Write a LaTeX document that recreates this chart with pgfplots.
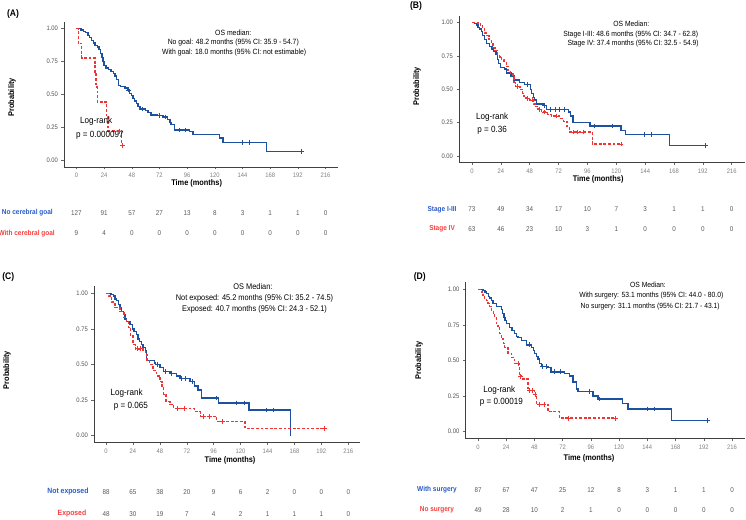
\documentclass[border=0pt]{standalone}
\usepackage{pgfplots}
\pgfplotsset{compat=1.18}
\usepackage{fontspec}
\setmainfont{Liberation Sans}[FakeStretch=0.9]
\definecolor{kmblue}{RGB}{28,80,160}
\definecolor{kmred}{RGB}{240,52,52}
\definecolor{lblblue}{RGB}{40,90,200}
\definecolor{lblred}{RGB}{250,60,60}
\definecolor{ytickgray}{RGB}{80,80,80}
\definecolor{xtickgray}{RGB}{130,130,130}
\definecolor{numgray}{RGB}{90,90,90}
\pgfplotsset{
  km/.style={
    scale only axis,
    axis lines*=left,
    axis line style={-, line width=0.8pt, draw=black!75},
    xmin=-10.8, xmax=226.8, ymin=-0.05, ymax=1.05,
    xtick={0,24,...,216},
    ytick={0,0.25,0.5,0.75,1},
    tick align=outside,
    major tick length=2.5pt,
    tick style={line width=0.5pt, draw=black!60},
    /pgf/number format/assume math mode=true,
    yticklabel style={/pgf/number format/.cd, fixed, fixed zerofill, precision=2, /tikz/.cd, text=ytickgray},
    xticklabel style={text=xtickgray},
    tick label style={font=\fontsize{6.5}{7}\selectfont},
    clip=false,
    xlabel={Time (months)},
    ylabel={Probability},
    label style={font=\fontsize{8.2}{9}\selectfont\bfseries},
  },
  bl/.style={kmblue, line width=1.35pt, const plot, mark=none},
  rd/.style={kmred, line width=1.35pt, const plot, mark=none, dash pattern=on 2.8pt off 1.8pt},
  bc/.style={kmblue, only marks, mark=+, mark size=2.4pt, line width=0.7pt},
  rc/.style={kmred, only marks, mark=+, mark size=2.4pt, line width=0.7pt},
  risk/.style={only marks, mark=none, nodes near coords, point meta=explicit symbolic,
     nodes near coords align=center,
     nodes near coords style={font=\fontsize{7}{8}\selectfont, text=numgray}},
}
\tikzset{
  rlab/.style={font=\fontsize{7.2}{8}\selectfont\bfseries},
  med/.style={font=\fontsize{7.6}{8}\selectfont, anchor=center},
  lr/.style={font=\fontsize{9}{10}\selectfont, anchor=center},
}
\begin{document}
\begin{tikzpicture}
\path[use as bounding box] (0,0) rectangle (746pt,519pt);
% ---------------- (A)
\begin{axis}[km, width=274pt, height=145pt, at={(64pt,352pt)}, anchor=south west,
  xlabel style={at={(axis description cs:0.484,-0.11)}, anchor=center},
  ylabel style={at={(axis description cs:-0.19,0.48)}, anchor=center}]
\addplot[bl] coordinates {(0,1)(3.8,0.99)(6,0.98)(8,0.97)(10,0.95)(11.5,0.93)(13,0.91)(14.5,0.89)(16,0.87)(18,0.86)(19.5,0.84)(21,0.81)(22,0.78)(23,0.75)(24,0.72)(25.5,0.70)(28,0.69)(30,0.675)(32,0.66)(33.5,0.64)(35,0.615)(36.5,0.57)(38,0.56)(42,0.55)(44,0.535)(46,0.51)(47.5,0.49)(49,0.47)(50.5,0.45)(52,0.43)(53.5,0.41)(55,0.39)(60,0.38)(62,0.365)(64.5,0.345)(70,0.34)(75,0.33)(79,0.31)(81,0.29)(82,0.27)(85,0.23)(98,0.22)(101,0.195)(124,0.17)(127,0.137)(165,0.068)(195,0.068)};
\addplot[bc] coordinates {(45,0.535)(57,0.39)(72,0.34)(77,0.33)(89,0.23)(94,0.23)(144,0.137)(150,0.137)(195,0.068)};
\addplot[rd] coordinates {(0,1)(1.5,0.889)(4.6,0.778)(16,0.667)(17,0.556)(18,0.444)(26,0.333)(27.5,0.222)(39,0.111)(40,0.111)};
\addplot[rc] coordinates {(37.5,0.222)(40,0.111)};
\node[med] at (axis cs:136,0.97) {OS median:};
\node[med] at (axis cs:136,0.894) {No goal: 48.2 months (95\% CI: 35.9 - 54.7)};
\node[med] at (axis cs:136.8,0.818) {With goal: 18.0 months (95\% CI: not estimable)};
\node[lr] at (axis cs:17.1,0.296) {Log-rank};
\node[lr] at (axis cs:20.3,0.1875) {p = 0.000097};
\addplot[risk] coordinates {(0,-0.40)[127] (24,-0.40)[91] (48,-0.40)[57] (72,-0.40)[27] (96,-0.40)[13] (120,-0.40)[8] (144,-0.40)[3] (168,-0.40)[1] (192,-0.40)[1] (216,-0.40)[0]};
\addplot[risk] coordinates {(0,-0.552)[9] (24,-0.552)[4] (48,-0.552)[0] (72,-0.552)[0] (96,-0.552)[0] (120,-0.552)[0] (144,-0.552)[0] (168,-0.552)[0] (192,-0.552)[0] (216,-0.552)[0]};
\node[rlab, text=lblblue, anchor=east] at (axis cs:-17.5,-0.40) {No cerebral goal};
\node[rlab, text=lblred, anchor=east] at (axis cs:-15.8,-0.552) {With cerebral goal};
\end{axis}
% ---------------- (B)
\begin{axis}[km, width=285.7pt, height=147pt, at={(459pt,356.3pt)}, anchor=south west,
  xlabel style={at={(axis description cs:0.487,-0.111)}, anchor=center},
  ylabel style={at={(axis description cs:-0.147,0.52)}, anchor=center}]
\addplot[bl] coordinates {(0,1)(2,0.99)(3.5,0.98)(5,0.96)(6.5,0.95)(8,0.93)(9,0.9)(10.5,0.87)(12,0.84)(14.5,0.82)(16.5,0.8)(18,0.78)(20,0.76)(21,0.72)(22,0.69)(23.5,0.66)(27,0.65)(28.5,0.62)(32.5,0.60)(35,0.57)(39.5,0.55)(43.5,0.535)(48.5,0.5)(49.5,0.47)(51,0.44)(52,0.42)(53.5,0.39)(59,0.38)(62,0.35)(80,0.33)(82,0.30)(84,0.25)(98,0.225)(124,0.19)(127.5,0.16)(164,0.08)(194,0.08)};
\addplot[bc] coordinates {(46,0.535)(60.5,0.38)(65,0.35)(69,0.35)(73,0.35)(77,0.35)(102,0.225)(117,0.225)(143,0.16)(149,0.16)(194,0.08)};
\addplot[rd] coordinates {(0,1)(5,0.99)(7,0.975)(9,0.95)(10.5,0.92)(12,0.9)(14,0.87)(16,0.84)(17.5,0.81)(19,0.79)(21,0.76)(23,0.74)(24.5,0.72)(26.5,0.70)(28.5,0.67)(30,0.64)(32,0.62)(34,0.59)(35,0.55)(36,0.52)(40,0.5)(42,0.47)(43,0.45)(45,0.43)(48,0.42)(51,0.39)(53,0.37)(55,0.35)(58,0.33)(63,0.31)(66,0.30)(73,0.28)(76,0.26)(79,0.22)(81,0.18)(100,0.09)(124,0.09)};
\addplot[rc] coordinates {(38,0.52)(46,0.43)(50,0.42)(56,0.35)(60,0.33)(70,0.30)(84,0.18)(88,0.18)(93,0.18)(124,0.09)};
\node[med, font=\fontsize{7.5}{8}\selectfont] at (axis cs:132.5,0.987) {OS Median:};
\node[med, font=\fontsize{7.5}{8}\selectfont] at (axis cs:132,0.910) {Stage I-III: 48.6 months (95\% CI: 34.7 - 62.8)};
\node[med, font=\fontsize{7.5}{8}\selectfont] at (axis cs:134,0.838) {Stage IV: 37.4 months (95\% CI: 32.5 - 54.9)};
\node[lr] at (axis cs:16.8,0.294) {Log-rank};
\node[lr] at (axis cs:16.8,0.194) {p = 0.36};
\addplot[risk] coordinates {(0,-0.399)[73] (24,-0.399)[49] (48,-0.399)[34] (72,-0.399)[17] (96,-0.399)[10] (120,-0.399)[7] (144,-0.399)[3] (168,-0.399)[1] (192,-0.399)[1] (216,-0.399)[0]};
\addplot[risk] coordinates {(0,-0.548)[63] (24,-0.548)[46] (48,-0.548)[23] (72,-0.548)[10] (96,-0.548)[3] (120,-0.548)[1] (144,-0.548)[0] (168,-0.548)[0] (192,-0.548)[0] (216,-0.548)[0]};
\node[rlab, text=lblblue, anchor=center] at (axis cs:-24.9,-0.399) {Stage I-III};
\node[rlab, text=lblred, anchor=center] at (axis cs:-24.9,-0.548) {Stage IV};
\end{axis}
% ---------------- (C)
\begin{axis}[km, width=266.5pt, height=156.6pt, at={(93.9pt,76.2pt)}, anchor=south west,
  xlabel style={at={(axis description cs:0.511,-0.115)}, anchor=center},
  ylabel style={at={(axis description cs:-0.326,0.465)}, anchor=center}]
\addplot[bl] coordinates {(0,1)(4.5,0.99)(6.5,0.98)(8,0.96)(9.5,0.95)(11,0.92)(12.5,0.9)(14,0.87)(15.5,0.85)(17,0.82)(18.5,0.8)(21.5,0.78)(23.5,0.75)(25,0.73)(27,0.71)(28.5,0.68)(30,0.66)(31.5,0.64)(33,0.62)(35,0.6)(36,0.53)(43,0.51)(44,0.5)(48,0.48)(51,0.45)(57,0.435)(63,0.42)(66,0.40)(75,0.38)(79,0.35)(82,0.32)(85,0.265)(100,0.23)(127.5,0.18)(164.6,0)};
\addplot[bc] coordinates {(46,0.5)(53,0.45)(58,0.435)(67,0.40)(71,0.40)(77,0.38)(98,0.265)(116,0.23)(123,0.23)(143,0.18)(149,0.18)};
\addplot[rd] coordinates {(0,1)(2,0.98)(5,0.94)(8,0.90)(12.5,0.87)(16,0.83)(18,0.8)(20,0.76)(22,0.7)(24,0.64)(26,0.61)(33,0.60)(35,0.57)(36.5,0.53)(39,0.5)(42,0.46)(45,0.42)(48,0.38)(50,0.34)(51.5,0.29)(53.5,0.24)(57,0.22)(60,0.19)(79,0.17)(84,0.135)(98.6,0.10)(124,0.05)(195,0.05)};
\addplot[rc] coordinates {(28,0.61)(31,0.61)(64,0.19)(70,0.19)(87,0.135)(92,0.135)(104,0.10)(195,0.05)};
\node[med, font=\fontsize{8.2}{9}\selectfont] at (axis cs:131,1.046) {OS Median:};
\node[med, font=\fontsize{8.2}{9}\selectfont] at (axis cs:132.4,0.965) {Not exposed: 45.2 months (95\% CI: 35.2 - 74.5)};
\node[med, font=\fontsize{8.2}{9}\selectfont] at (axis cs:132.4,0.888) {Exposed: 40.7 months (95\% CI: 24.3 - 52.1)};
\node[lr] at (axis cs:18.4,0.298) {Log-rank};
\node[lr] at (axis cs:22.1,0.204) {p = 0.065};
\addplot[risk] coordinates {(0,-0.393)[88] (24,-0.393)[65] (48,-0.393)[38] (72,-0.393)[20] (96,-0.393)[9] (120,-0.393)[6] (144,-0.393)[2] (168,-0.393)[0] (192,-0.393)[0] (216,-0.393)[0]};
\addplot[risk] coordinates {(0,-0.549)[48] (24,-0.549)[30] (48,-0.549)[19] (72,-0.549)[7] (96,-0.549)[4] (120,-0.549)[2] (144,-0.549)[1] (168,-0.549)[1] (192,-0.549)[1] (216,-0.549)[0]};
\node[rlab, text=lblblue, anchor=east, font=\fontsize{7.6}{8}\selectfont\bfseries] at (axis cs:-12.5,-0.393) {Not exposed};
\node[rlab, text=lblred, anchor=east, font=\fontsize{7.6}{8}\selectfont\bfseries] at (axis cs:-14.5,-0.549) {Exposed};
\end{axis}
% ---------------- (D)
\begin{axis}[km, width=279.4pt, height=156.6pt, at={(465.3pt,80.2pt)}, anchor=south west,
  xlabel style={at={(axis description cs:0.443,-0.123)}, anchor=center},
  ylabel style={at={(axis description cs:-0.166,0.5)}, anchor=center}]
\addplot[bl] coordinates {(0,1)(4.3,0.99)(6,0.98)(7,0.97)(9,0.95)(10,0.94)(11.5,0.92)(12.8,0.9)(15.5,0.88)(19.8,0.86)(21,0.83)(22,0.8)(23,0.78)(24,0.76)(27,0.73)(29,0.71)(31,0.69)(33,0.67)(34,0.66)(36.8,0.64)(41,0.61)(45.4,0.59)(47,0.57)(48,0.55)(49.5,0.53)(51,0.51)(52.5,0.48)(53.8,0.46)(59.5,0.45)(62,0.42)(73.7,0.41)(78,0.39)(80.8,0.35)(83.6,0.3)(85,0.28)(97.8,0.25)(102,0.23)(123,0.2)(127.5,0.16)(164.4,0.08)(195,0.08)};
\addplot[bc] coordinates {(44,0.61)(55,0.46)(58,0.46)(65,0.42)(70,0.42)(95,0.28)(103,0.23)(144,0.16)(150,0.16)(195,0.08)};
\addplot[rd] coordinates {(0,1)(2.8,0.98)(4,0.96)(5.7,0.93)(7,0.92)(8.5,0.9)(10,0.88)(11.3,0.85)(13,0.82)(14,0.8)(15.5,0.76)(17,0.73)(18.5,0.69)(19.8,0.65)(21.5,0.62)(22.7,0.59)(25.5,0.55)(28.3,0.52)(31,0.48)(35.5,0.39)(37,0.37)(42.5,0.29)(48,0.26)(50,0.19)(59.5,0.14)(69.4,0.095)(117,0.095)};
\addplot[rc] coordinates {(34,0.48)(36,0.39)(44,0.29)(46,0.29)(48.5,0.26)(52,0.19)(56,0.19)(77,0.095)(117,0.095)};
\node[med, font=\fontsize{7.5}{8}\selectfont] at (axis cs:144.6,1.030) {OS Median:};
\node[med, font=\fontsize{7.5}{8}\selectfont] at (axis cs:147.4,0.953) {With surgery: 53.1 months (95\% CI: 44.0 - 80.0)};
\node[med, font=\fontsize{7.5}{8}\selectfont] at (axis cs:146.4,0.878) {No surgery: 31.1 months (95\% CI: 21.7 - 43.1)};
\node[lr] at (axis cs:18.1,0.293) {Log-rank};
\node[lr] at (axis cs:19.8,0.204) {p = 0.00019};
\addplot[risk] coordinates {(0,-0.409)[87] (24,-0.409)[67] (48,-0.409)[47] (72,-0.409)[25] (96,-0.409)[12] (120,-0.409)[8] (144,-0.409)[3] (168,-0.409)[1] (192,-0.409)[1] (216,-0.409)[0]};
\addplot[risk] coordinates {(0,-0.55)[49] (24,-0.55)[28] (48,-0.55)[10] (72,-0.55)[2] (96,-0.55)[1] (120,-0.55)[0] (144,-0.55)[0] (168,-0.55)[0] (192,-0.55)[0] (216,-0.55)[0]};
\node[rlab, text=lblblue, anchor=center] at (axis cs:-34.9,-0.409) {With surgery};
\node[rlab, text=lblred, anchor=center] at (axis cs:-34.9,-0.55) {No surgery};
\end{axis}
% panel letters
\node[font=\fontsize{9.5}{10}\selectfont\bfseries] at (13pt,505pt) {(A)};
\node[font=\fontsize{9.5}{10}\selectfont\bfseries] at (416pt,513.3pt) {(B)};
\node[font=\fontsize{9.5}{10}\selectfont\bfseries] at (8.3pt,241.7pt) {(C)};
\node[font=\fontsize{9.5}{10}\selectfont\bfseries] at (419.7pt,241.7pt) {(D)};
\end{tikzpicture}
\end{document}
